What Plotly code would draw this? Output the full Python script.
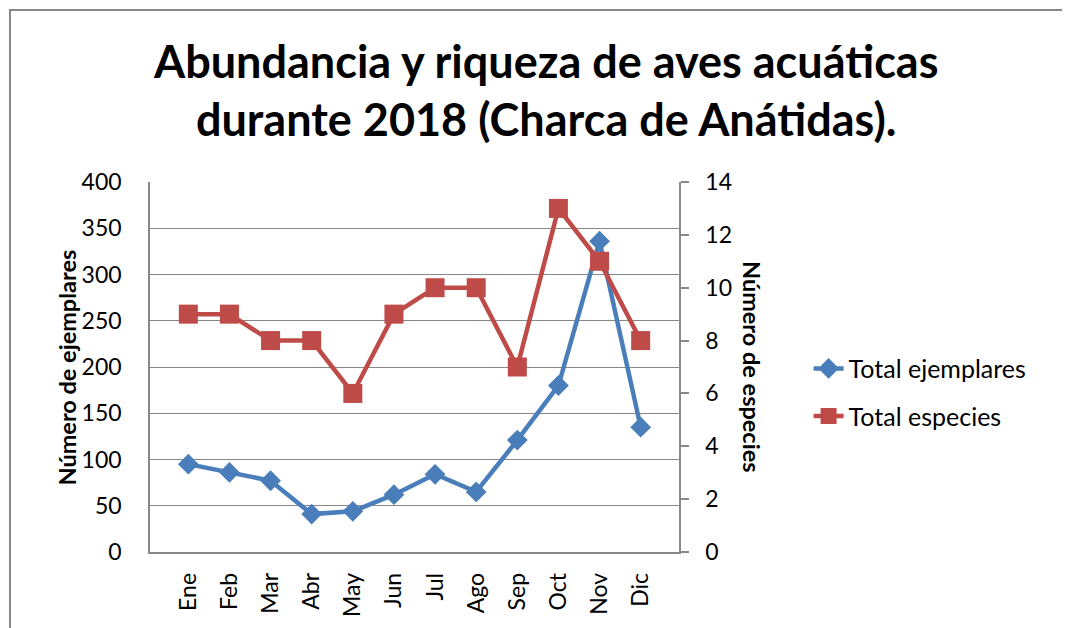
import plotly.graph_objects as go

# --- data ---
meses = ["Ene", "Feb", "Mar", "Abr", "May", "Jun", "Jul", "Ago", "Sep", "Oct", "Nov", "Dic"]
total_ejemplares = [95, 86, 77, 41, 44, 62, 84, 65, 121, 180, 336, 135]
total_especies = [9, 9, 8, 8, 6, 9, 10, 10, 7, 13, 11, 8]

AZUL = "#4A7EBB"
ROJO = "#BE4B48"
GRIS = "#878787"
FONT = "Lato, 'Open Sans', sans-serif"

fig = go.Figure()

fig.add_trace(go.Scatter(
    x=meses, y=total_ejemplares, name="Total ejemplares",
    mode="lines+markers", legendgroup="a",
    line=dict(color=AZUL, width=4.5),
    marker=dict(symbol="diamond", size=16, color=AZUL),
))
fig.add_trace(go.Scatter(
    x=meses, y=total_especies, name="Total especies", yaxis="y2",
    mode="lines+markers", legendgroup="b",
    line=dict(color=ROJO, width=4.5),
    marker=dict(symbol="square", size=19, color=ROJO),
))

# the page body adds an 8px offset, so margins are shifted by that much
fig.update_layout(
    width=1070, height=628,
    margin=dict(l=142, r=399, t=174, b=84, autoexpand=False),
    paper_bgcolor="white", plot_bgcolor="white",
    font=dict(family=FONT, size=23, color="black"),
    title=dict(
        text="<b>Abundancia y riqueza de aves acuáticas<br>durante 2018 (Charca de Anátidas).</b>",
        x=0.503, xanchor="center", y=0.889, yanchor="middle",
        font=dict(family=FONT, size=45, color="black"),
    ),
    xaxis=dict(
        type="category", tickangle=-90, showgrid=False,
        showline=True, linecolor=GRIS, linewidth=1.5,
        ticks="", ticklabelstandoff=10, automargin=False,
    ),
    yaxis=dict(
        range=[0, 400], dtick=50, showgrid=True, gridcolor=GRIS, gridwidth=1.2,
        showline=True, linecolor=GRIS, linewidth=1.5, zeroline=False,
        ticks="", ticklabelstandoff=22, automargin=False,
    ),
    yaxis2=dict(
        range=[0, 14], dtick=2, overlaying="y", side="right", showgrid=False,
        showline=True, linecolor=GRIS, linewidth=1.5, zeroline=False,
        ticks="outside", ticklen=8, tickcolor=GRIS, tickwidth=1.5,
        ticklabelstandoff=12, automargin=False,
    ),
    legend=dict(
        x=1.245, xanchor="left", y=0.432, yanchor="middle",
        traceorder="grouped", tracegroupgap=12,
        font=dict(family=FONT, size=25), bgcolor="rgba(0,0,0,0)",
    ),
    showlegend=True,
)

# axis titles (the right one reads top to bottom)
fig.add_annotation(
    text="<b>Número de ejemplares</b>", textangle=-90,
    xref="paper", yref="paper", x=-0.156, y=0.5,
    xanchor="center", yanchor="middle", showarrow=False,
    font=dict(family=FONT, size=23.5),
)
fig.add_annotation(
    text="<b>Número de especies</b>", textangle=90,
    xref="paper", yref="paper", x=1.138, y=0.5,
    xanchor="center", yanchor="middle", showarrow=False,
    font=dict(family=FONT, size=23.5),
)

# chart-area border
fig.add_shape(
    type="rect", xref="paper", yref="paper",
    x0=-0.2647, x1=1.76, y0=-0.24, y1=1.4649,
    line=dict(color=GRIS, width=2), fillcolor="rgba(0,0,0,0)", layer="below",
)

fig.write_html("out.html")
